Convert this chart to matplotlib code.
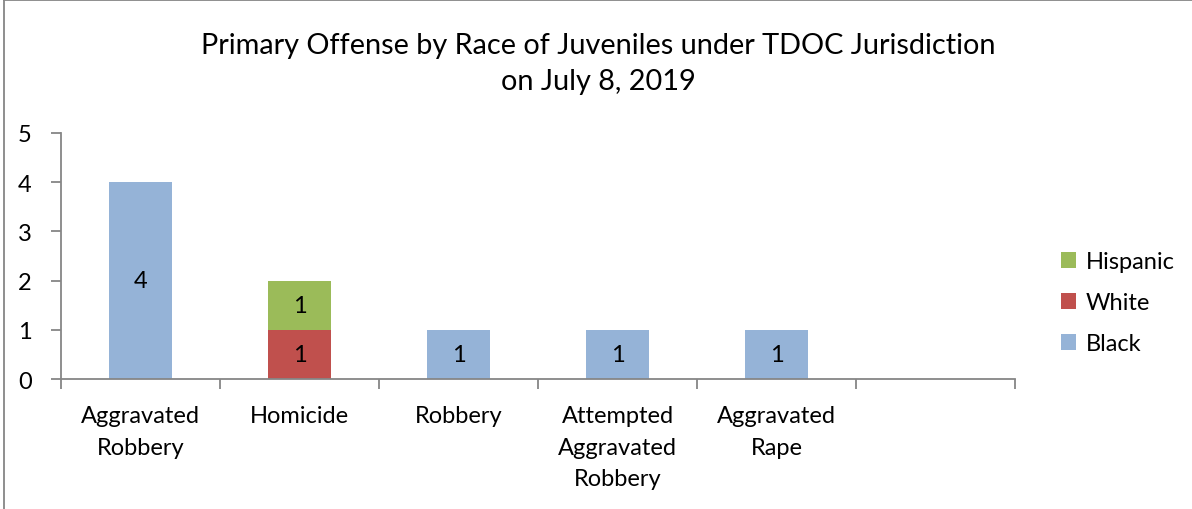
import numpy as np
import matplotlib.pyplot as plt
from matplotlib.lines import Line2D

plt.rcParams['font.family'] = ['Lato', 'DejaVu Sans']

# data
categories = ['Aggravated\nRobbery', 'Homicide', 'Robbery',
              'Attempted\nAggravated\nRobbery', 'Aggravated\nRape', '']
black = [4, 0, 1, 1, 1, 0]
white = [0, 1, 0, 0, 0, 0]
hispanic = [0, 1, 0, 0, 0, 0]

fig = plt.figure(figsize=(11.92, 5.10), dpi=100)
ax = fig.add_axes([0.0512, 0.2549, 0.8003, 0.4824])

x = np.arange(len(categories))
w = 0.4
b1 = ax.bar(x, black, w, color='#95B3D7', label='Black')
b2 = ax.bar(x, white, w, bottom=black, color='#C0504D', label='White')
bottom2 = np.array(black) + np.array(white)
b3 = ax.bar(x, hispanic, w, bottom=bottom2, color='#9BBB59', label='Hispanic')

for bars, vals in [(b1, black), (b2, white), (b3, hispanic)]:
    for r, v in zip(bars, vals):
        if v > 0:
            ax.text(r.get_x() + r.get_width() / 2, r.get_y() + r.get_height() / 2,
                    str(v), ha='center', va='center', fontsize=17)

ax.set_xlim(-0.5, len(categories) - 0.5)
ax.set_ylim(0, 5)
ax.set_yticks(range(6))
ax.set_xticks(x)
ax.set_xticklabels(categories, fontsize=17, linespacing=1.62, va='top')
ax.set_xticks(np.arange(-0.5, len(categories)), minor=True)
ax.tick_params(axis='x', which='major', length=0, pad=19)
ax.tick_params(axis='x', which='minor', length=7, color='#868686', width=1.3)
ax.tick_params(axis='y', length=7, color='#868686', width=1.3, labelsize=17, pad=14)

for s in ['top', 'right']:
    ax.spines[s].set_visible(False)
for s in ['left', 'bottom']:
    ax.spines[s].set_color('#868686')
    ax.spines[s].set_linewidth(1.3)

handles = [b3, b2, b1]
ax.legend(handles=handles, labels=['Hispanic', 'White', 'Black'],
          loc='center left', bbox_to_anchor=(1.026, 0.31), frameon=False,
          fontsize=17, handlelength=0.65, handleheight=0.65, handletextpad=0.4,
          labelspacing=0.85)

fig.suptitle('Primary Offense by Race of Juveniles under TDOC Jurisdiction\non July 8, 2019',
             x=0.502, y=0.935, fontsize=20.8, linespacing=1.45)

# border of the chart area (left and top edges)
fig.add_artist(Line2D([0.003, 0.003], [0, 0.998], transform=fig.transFigure,
                      color='#868686', lw=1.3))
fig.add_artist(Line2D([0.003, 1.0], [0.998, 0.998], transform=fig.transFigure,
                      color='#868686', lw=1.3))

fig.savefig('out.png', dpi=100)
